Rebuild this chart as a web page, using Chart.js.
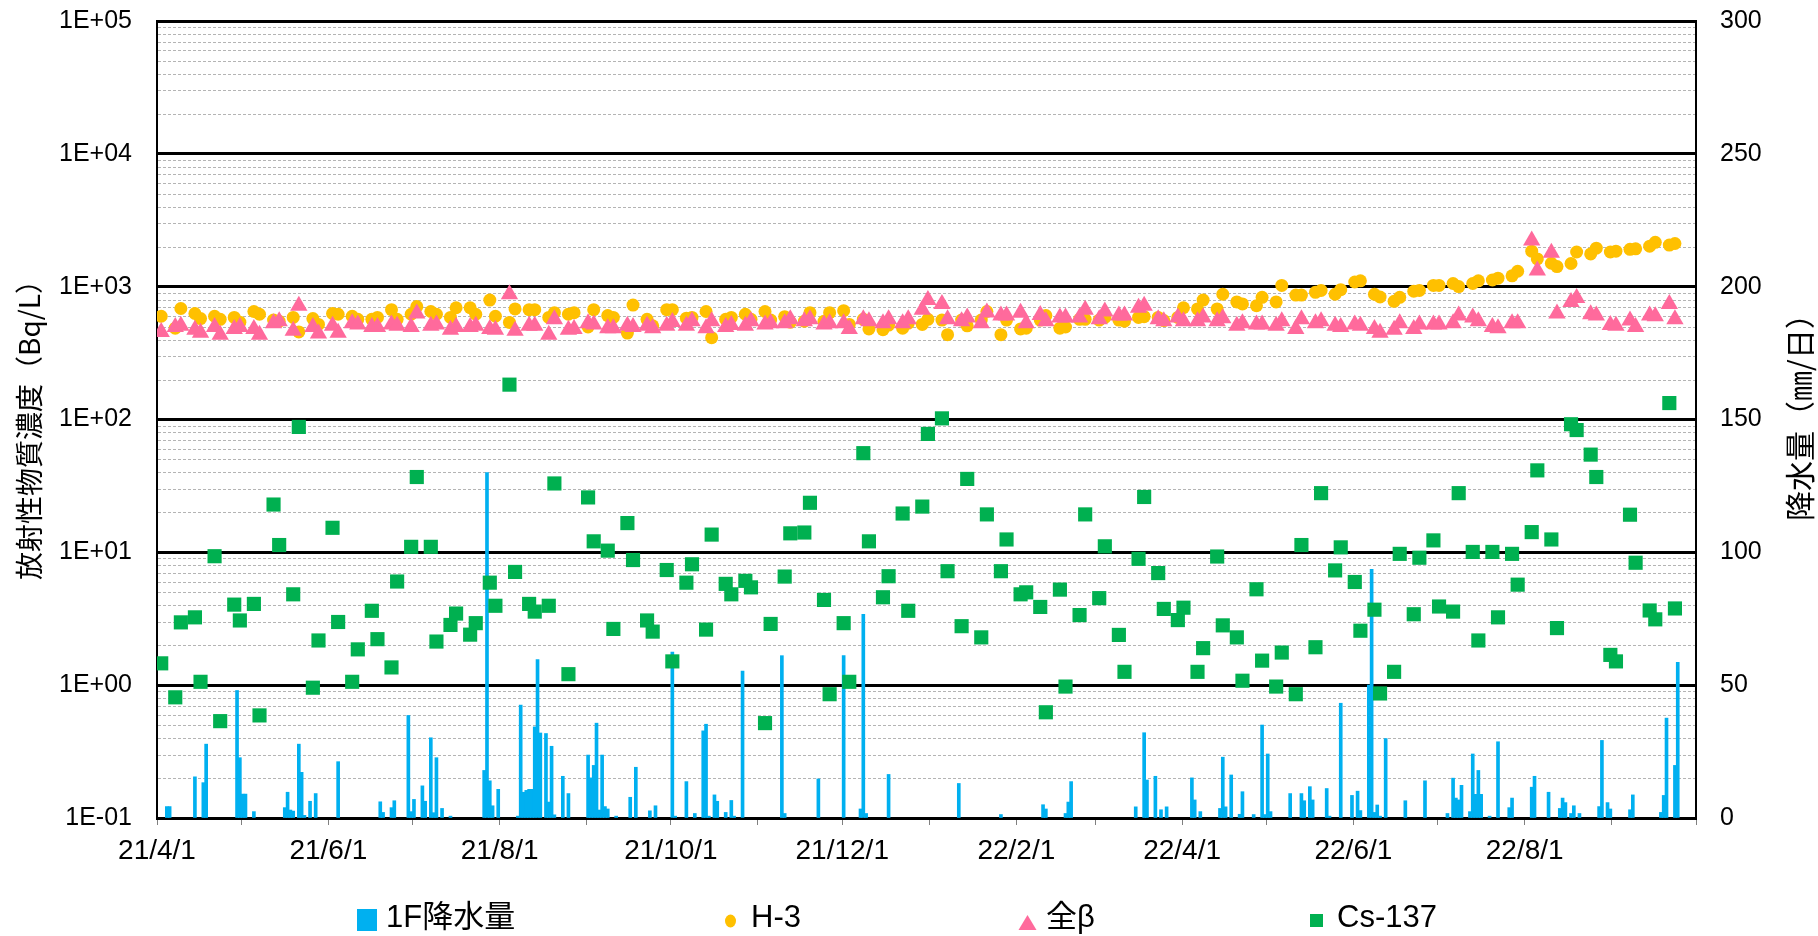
<!DOCTYPE html>
<html lang="ja">
<head>
<meta charset="utf-8">
<title>放射性物質濃度と1F降水量</title>
<script src="https://cdn.jsdelivr.net/npm/chart.js@4.4.1/dist/chart.umd.min.js"></script>
<style>
    html, body { margin: 0; padding: 0; background: #fff; }
    #wrap { width: 1818px; height: 936px; }
</style>
</head>
<body>
<div id="wrap"><canvas id="chart" width="1818" height="936"></canvas></div>
<script>
// Sampling days, counted in days from 2021/4/1
const sampleDays = [
    1, 6, 8, 13, 15, 20, 22, 27, 29, 34, 36, 41, 43, 48, 50, 55, 57, 62, 64, 69,
    71, 76, 78, 83, 85, 90, 92, 97, 99, 104, 106, 111, 113, 118, 120, 125, 127, 132, 134, 139,
    141, 146, 148, 153, 155, 160, 162, 167, 169, 174, 176, 181, 183, 188, 190, 195, 197, 202, 204, 209,
    211, 216, 218, 223, 225, 230, 232, 237, 239, 244, 246, 251, 253, 258, 260, 265, 267, 272, 274, 279,
    281, 286, 288, 293, 295, 300, 302, 307, 309, 314, 316, 321, 323, 328, 330, 335, 337, 342, 344, 349,
    351, 356, 358, 363, 365, 370, 372, 377, 379, 384, 386, 391, 393, 398, 400, 405, 407, 412, 414, 419,
    421, 426, 428, 433, 435, 440, 442, 447, 449, 454, 456, 461, 463, 468, 470, 475, 477, 482, 484, 489,
    491, 496, 498, 503, 505, 510, 512, 517, 519, 524, 526, 531, 533, 538, 540
]

// H-3 (Bq/L)
const h3 = [
    599, 487, 685, 628, 575, 599, 568, 587, 540, 650, 620, 560, 549, 587, 456, 575, 520, 628, 620, 599,
    568, 568, 587, 671, 568, 620, 708, 650, 620, 587, 694, 694, 620, 793, 599, 538, 680, 671, 671, 587,
    637, 620, 637, 497, 671, 606, 587, 447, 727, 568, 507, 671, 671, 579, 587, 650, 413, 568, 587, 620,
    568, 650, 560, 594, 540, 549, 637, 549, 637, 660, 520, 568, 481, 474, 514, 487, 531, 520, 568, 560,
    435, 560, 507, 560, 650, 435, 560, 481, 487, 560, 606, 487, 497, 568, 568, 560, 587, 560, 549, 587,
    594, 587, 556, 587, 694, 680, 793, 680, 877, 767, 742, 718, 831, 767, 1021, 865, 865, 906, 937, 877,
    949, 1084, 1107, 877, 836, 775, 831, 924, 937, 1021, 1021, 1056, 1001, 1056, 1107, 1122, 1159, 1207, 1307, 1849,
    1618, 1500, 1416, 1494, 1824, 1765, 1950, 1824, 1849, 1911, 1928, 2017, 2156, 2057, 2114
]

// 全β (Bq/L)
const beta = [
    456, 497, 507, 474, 450, 497, 435, 481, 497, 481, 435, 531, 549, 465, 719, 497, 444, 507, 450, 531,
    520, 497, 497, 520, 507, 497, 628, 507, 520, 474, 497, 497, 507, 481, 474, 877, 465, 507, 507, 435,
    568, 474, 481, 531, 520, 487, 487, 507, 497, 507, 487, 507, 541, 507, 549, 487, 549, 497, 514, 507,
    549, 520, 531, 531, 568, 549, 568, 520, 531, 531, 481, 568, 549, 531, 568, 531, 568, 671, 793, 742,
    568, 549, 587, 531, 640, 606, 606, 637, 531, 613, 549, 587, 587, 587, 671, 568, 650, 606, 606, 694,
    718, 568, 549, 587, 549, 549, 587, 549, 579, 507, 531, 520, 520, 507, 549, 481, 568, 531, 549, 507,
    497, 520, 507, 481, 450, 474, 531, 481, 520, 520, 520, 531, 606, 587, 549, 497, 487, 531, 531, 2228,
    1325, 1800, 628, 767, 820, 620, 606, 514, 507, 556, 497, 606, 599, 742, 568
]

// Cs-137 (Bq/L)
const cs137 = [
    1.46, 0.81, 2.97, 3.24, 1.06, 9.35, 0.536, 4.04, 3.07, 4.09, 0.592, 22.9, 11.35, 4.83, 87.9, 0.957, 2.17, 15.3, 2.99, 1.06,
    1.86, 3.63, 2.22, 1.36, 6.03, 11.0, 36.9, 11.0, 2.13, 2.84, 3.46, 2.40, 2.93, 5.91, 3.96, 183, 7.12, 4.09, 3.58, 3.96,
    33.0, 1.21, null, 25.9, 12.1, 10.3, 2.65, 16.6, 8.75, 3.07, 2.53, 7.36, 1.51, 5.91, 8.13, 2.62, 13.6, 5.79, 4.83, 6.1,
    5.45, 0.518, 2.89, 6.57, 13.9, 14.1, 23.6, 4.38, 0.855, 2.93, 1.06, 55.8, 12.1, 4.59, 6.61, 19.6, 3.63, 22.1, 77.9, 102,
    7.21, 2.78, 35.7, 2.29, 19.3, 7.21, 12.5, 4.83, 5.0, 3.88, 0.625, 5.24, 0.976, 3.37, 19.3, 4.52, 11.1, 2.39, 1.26, 8.93,
    26.1, 6.98, 3.75, 3.09, 3.83, 1.26, 1.90, 9.3, 2.82, 2.29, 1.08, 5.27, 1.53, 0.976, 1.76, 0.855, 11.35, 1.93, 27.9, 7.31,
    10.9, 5.98, 2.57, 3.70, 0.866, 1.26, 9.74, 3.42, 9.11, 12.3, 3.91, 3.58, 27.9, 10.07, 2.17, 10.07, 3.24, 9.74, 5.71, 14.2,
    41.4, 12.5, 2.69, 92.1, 83.3, 54.4, 36.9, 1.69, 1.51, 19.2, 8.35, 3.65, 3.13, 133, 3.78
]

// 1F daily rainfall: day (from 2021/4/1) and mm/day
const rainDays = [
    3, 4, 13, 16, 17, 28, 29, 30, 31, 34, 45, 46, 47, 48, 50, 51, 52, 54, 56, 64,
    79, 80, 83, 84, 89, 90, 91, 94, 95, 97, 98, 99, 101, 104, 116, 117, 118, 119, 121, 128,
    129, 130, 131, 132, 133, 134, 135, 136, 138, 139, 140, 141, 144, 146, 153, 154, 155, 156, 157, 158,
    159, 160, 163, 168, 170, 175, 177, 183, 184, 188, 191, 194, 195, 196, 198, 199, 202, 204, 205, 208,
    222, 223, 235, 244, 250, 251, 252, 260, 285, 300, 315, 316, 323, 324, 325, 348, 351, 352, 355, 357,
    359, 368, 369, 371, 378, 379, 380, 382, 385, 386, 390, 393, 394, 395, 396, 403, 407, 408, 410, 411,
    416, 417, 421, 425, 427, 428, 431, 432, 433, 434, 435, 437, 444, 451, 459, 461, 462, 463, 464, 467,
    468, 469, 470, 471, 474, 477, 481, 482, 489, 490, 495, 499, 500, 501, 503, 504, 506, 513, 514, 516,
    517, 524, 525, 535, 536, 537, 540, 541
]
const rainMm = [
    4.3, 4.3, 15.5, 13.3, 27.8, 48.0, 22.7, 9, 9, 2.4, 3.9, 9.7, 3, 2.6, 27.8, 17.2, 1, 6.3, 9.2, 21.2,
    6.1, 2.1, 3.9, 6.5, 38.6, 2.4, 7.0, 12.1, 6.3, 30.2, 2, 22.7, 3.6, 0.7, 17.9, 130, 14, 4.6, 10.8, 0.7,
    42.5, 9.7, 10.4, 10.8, 10.8, 34.3, 59.6, 32, 31.8, 6, 27, 1.2, 15.7, 9.2, 23.7, 15.1, 19.8, 35.7, 3, 23.7,
    4.3, 3.4, 0.7, 7.8, 19.1, 2.7, 4.6, 62.5, 0.7, 13.7, 1.7, 32.8, 35.3, 0.7, 8.7, 6.3, 2.1, 6.6, 0.7, 55.3,
    61.1, 1.7, 14.7, 61.1, 3.4, 76.7, 1.7, 16.4, 13, 1.3, 5, 3.4, 1.7, 6, 13.7, 4.2, 32.1, 14.3, 15.7, 3.1,
    4.2, 15.1, 6.8, 2.4, 3.6, 22.9, 4.2, 16.2, 1.4, 9.9, 1.3, 35, 1.3, 24.1, 2.4, 9.2, 9.2, 6.5, 11.8, 6.8,
    11.1, 0.7, 43.2, 8.5, 10.1, 2.8, 50, 93.6, 2.1, 4.9, 0.7, 29.9, 6.5, 14, 1.7, 15, 7.5, 6.8, 12.3, 2.4,
    24.1, 8.9, 17.9, 8.9, 0.7, 28.7, 3.9, 7.5, 11.6, 15.7, 9.7, 3.6, 7.5, 5.8, 1.7, 4.6, 1.7, 4.3, 29.2, 5.8,
    3.4, 3.1, 8.7, 2.1, 8.5, 37.6, 19.8, 58.6
]

// Axis tick labels
const xTickLabels = ['21/4/1', '21/6/1', '21/8/1', '21/10/1', '21/12/1', '22/2/1', '22/4/1', '22/6/1', '22/8/1']
const leftTickLabels = ['1E-01', '1E+00', '1E+01', '1E+02', '1E+03', '1E+04', '1E+05']
const rightTickLabels = ['0', '50', '100', '150', '200', '250', '300']

const seriesNames = ['1F降水量', 'H-3', '全β', 'Cs-137']
const leftTitle = '放射性物質濃度（Bq/L）'
const rightTitle = '降水量（㎜/日）'

const colors = {
    rain: '#00B0F0',
    h3: '#FFC000',
    beta: '#FF6A9C',
    cs: '#00B050'
}

const DAY0 = Date.UTC(2021, 3, 1)
const MS_DAY = 86400000

function dayOfLabel(label) {
    const [y, m, d] = label.split('/').map(Number)
    return Math.round((Date.UTC(2000 + y, m - 1, d) - DAY0) / MS_DAY)
}

// monthly tick marks from 2021/4/1 to 2022/10/1
const monthTicks = []
for (let i = 0; i <= 18; i++) {
    monthTicks.push(Math.round((Date.UTC(2021, 3 + i, 1) - DAY0) / MS_DAY))
}
const xMax = monthTicks[monthTicks.length - 1]

const labelByDay = {}
xTickLabels.forEach(l => { labelByDay[dayOfLabel(l)] = l })

const leftTickValues = leftTickLabels.map(Number)
const rightTickValues = rightTickLabels.map(Number)

// Excel puts each date in the middle of its day slot
const toPoints = (days, values) => days
    .map((d, i) => ({ x: d + 0.5, y: values[i] }))
    .filter(p => p.y !== null)

const tickFont = { family: '"Liberation Sans", Arial, sans-serif', size: 25 }
const cjkFont = '"Noto Sans CJK JP", "Liberation Sans", sans-serif'

// keep the plot box fixed: no extra room for the end labels
function fixVertical(width) {
    return s => {
        s.width = width
        s.paddingTop = 0
        s.paddingBottom = 0
    }
}

const decorPlugin = {
    id: 'decor',
    beforeDatasetsDraw(chart) {
        // minor log gridlines (2..9 in each decade)
        const { ctx, chartArea } = chart
        const y = chart.scales.y
        ctx.save()
        ctx.strokeStyle = '#b4b4b4'
        ctx.lineWidth = 1
        ctx.setLineDash([3, 2])
        for (let e = -1; e < 5; e++) {
            for (let m = 2; m <= 9; m++) {
                const py = Math.round(y.getPixelForValue(m * Math.pow(10, e))) + 0.5
                ctx.beginPath()
                ctx.moveTo(chartArea.left + 1, py)
                ctx.lineTo(chartArea.right - 1, py)
                ctx.stroke()
            }
        }
        ctx.restore()
    },
    afterDraw(chart) {
        const { ctx } = chart
        ctx.save()
        ctx.fillStyle = '#000'
        ctx.textAlign = 'center'
        ctx.textBaseline = 'middle'

        // axis titles
        ctx.font = '28px ' + cjkFont
        ctx.save()
        ctx.translate(29, 423)
        ctx.rotate(-Math.PI / 2)
        ctx.fillText(leftTitle, 0, 0)
        ctx.restore()

        ctx.font = '30px ' + cjkFont
        ctx.save()
        ctx.translate(1800, 410)
        ctx.rotate(-Math.PI / 2)
        ctx.fillText(rightTitle, 0, 0)
        ctx.restore()

        // legend
        const ly = 918
        ctx.textAlign = 'left'
        ctx.font = '31px "Liberation Sans", ' + cjkFont

        ctx.fillStyle = colors.rain
        ctx.fillRect(357, 909, 20, 22)
        ctx.fillStyle = '#000'
        ctx.fillText(seriesNames[0], 386, ly)

        ctx.fillStyle = colors.h3
        ctx.beginPath()
        ctx.ellipse(730.5, 921, 5.5, 6.5, 0, 0, Math.PI * 2)
        ctx.fill()
        ctx.fillStyle = '#000'
        ctx.fillText(seriesNames[1], 751, ly)

        ctx.fillStyle = colors.beta
        ctx.beginPath()
        ctx.moveTo(1027.5, 915)
        ctx.lineTo(1036.5, 930)
        ctx.lineTo(1018.5, 930)
        ctx.closePath()
        ctx.fill()
        ctx.fillStyle = '#000'
        ctx.fillText(seriesNames[2], 1046, ly)

        ctx.fillStyle = colors.cs
        ctx.fillRect(1310, 914, 13, 13)
        ctx.fillStyle = '#000'
        ctx.fillText(seriesNames[3], 1337, ly)

        ctx.restore()
    }
}

const ctx = document.getElementById('chart').getContext('2d')

new Chart(ctx, {
    type: 'scatter',
    data: {
        datasets: [
            {
                type: 'scatter',
                label: seriesNames[3],
                data: toPoints(sampleDays, cs137),
                yAxisID: 'y',
                pointStyle: 'rect',
                pointRadius: 10,
                backgroundColor: colors.cs,
                borderWidth: 0,
                order: 1
            },
            {
                type: 'scatter',
                label: seriesNames[2],
                data: toPoints(sampleDays, beta),
                yAxisID: 'y',
                pointStyle: 'triangle',
                pointRadius: 10,
                backgroundColor: colors.beta,
                borderWidth: 0,
                order: 2
            },
            {
                type: 'scatter',
                label: seriesNames[1],
                data: toPoints(sampleDays, h3),
                yAxisID: 'y',
                pointStyle: 'circle',
                pointRadius: 6.5,
                backgroundColor: colors.h3,
                borderWidth: 0,
                order: 3
            },
            {
                type: 'bar',
                label: seriesNames[0],
                data: toPoints(rainDays, rainMm),
                yAxisID: 'y2',
                backgroundColor: colors.rain,
                borderWidth: 0,
                barThickness: 3,
                grouped: false,
                order: 4
            }
        ]
    },
    options: {
        responsive: false,
        animation: false,
        devicePixelRatio: 1,
        events: [],
        layout: { padding: { top: 21, left: 0, right: 0, bottom: 0 } },
        plugins: {
            legend: { display: false },
            tooltip: { enabled: false }
        },
        scales: {
            x: {
                type: 'linear',
                position: 'bottom',
                min: 0,
                max: xMax,
                offset: false,
                afterBuildTicks: s => { s.ticks = monthTicks.map(v => ({ value: v })) },
                afterFit: s => { s.height = 118 },
                ticks: {
                    autoSkip: false,
                    maxRotation: 0,
                    padding: 9,
                    color: '#000',
                    font: { family: '"Liberation Sans", Arial, sans-serif', size: 28 },
                    callback: v => labelByDay[v] || ''
                },
                grid: {
                    offset: false,
                    drawOnChartArea: false,
                    drawTicks: true,
                    tickLength: 7,
                    tickColor: '#808080',
                    tickWidth: 1
                },
                border: { color: '#000', width: 3 }
            },
            y: {
                type: 'logarithmic',
                position: 'left',
                min: 0.1,
                max: 1e5,
                afterBuildTicks: s => { s.ticks = leftTickValues.map(v => ({ value: v })) },
                afterFit: fixVertical(157),
                ticks: {
                    padding: 25,
                    color: '#000',
                    font: tickFont,
                    callback: (v, i) => leftTickLabels[i]
                },
                grid: { color: '#000', lineWidth: 3, drawTicks: false },
                border: { color: '#000', width: 2 }
            },
            y2: {
                type: 'linear',
                position: 'right',
                min: 0,
                max: 300,
                afterBuildTicks: s => { s.ticks = rightTickValues.map(v => ({ value: v })) },
                afterFit: fixVertical(122),
                ticks: {
                    padding: 24,
                    color: '#000',
                    font: tickFont,
                    callback: (v, i) => rightTickLabels[i]
                },
                grid: { drawOnChartArea: false, drawTicks: false },
                border: { color: '#000', width: 2 }
            }
        }
    },
    plugins: [decorPlugin]
})
</script>
</body>
</html>
